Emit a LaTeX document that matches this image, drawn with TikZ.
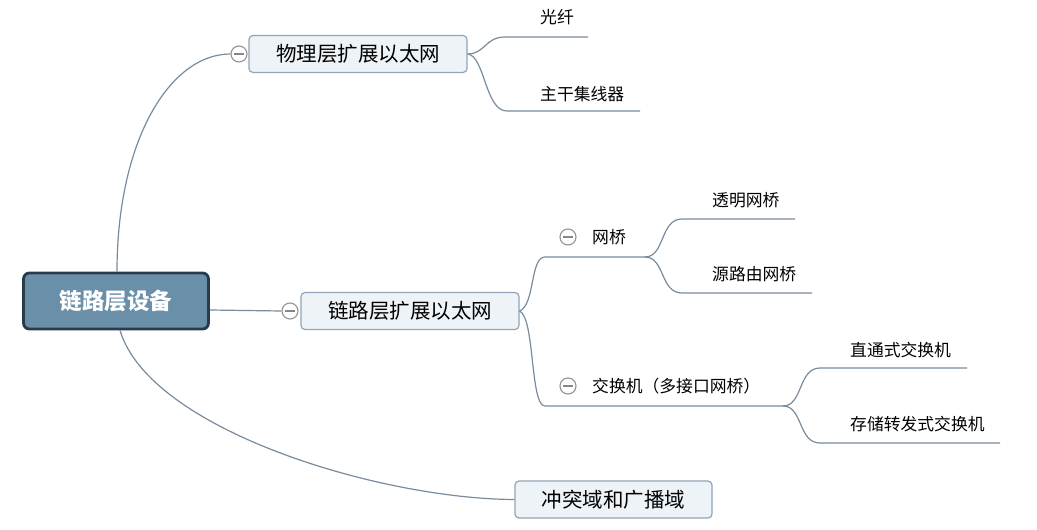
\documentclass[tikz,border=0pt]{standalone}
\usepackage{fontspec}
\usepackage{tikz}
\usetikzlibrary{positioning}
\setmainfont{Noto Sans CJK SC}
\definecolor{rootfill}{RGB}{106,143,168}
\definecolor{rootdraw}{RGB}{40,58,75}
\definecolor{boxfill}{RGB}{238,243,248}
\definecolor{boxdraw}{RGB}{145,165,183}
\definecolor{linkgray}{RGB}{120,140,158}

\begin{document}
\begin{tikzpicture}[x=1pt, y=-1pt,
  rootbox/.style={rectangle, draw=rootdraw, line width=2.8pt, fill=rootfill, rounded corners=6pt, minimum width=185pt, minimum height=56pt, text=white, font=\fontsize{22.5}{25}\selectfont\bfseries},
  topic/.style={rectangle, draw=boxdraw, line width=1.2pt, fill=boxfill, rounded corners=4pt, minimum width=218pt, minimum height=37pt, font=\fontsize{20.5}{23}\selectfont},
  leaf/.style={inner sep=0pt, anchor=west, font=\fontsize{16.8}{19}\selectfont},
  fold/.style={circle, draw=gray!85, line width=1.1pt, fill=white, minimum size=16pt, inner sep=0pt, path picture={\draw[gray!95, line width=1.3pt] ([xshift=-5pt]path picture bounding box.center) -- ([xshift=5pt]path picture bounding box.center);}},
  conn/.style={draw=linkgray, line width=1.2pt},
]
  \useasboundingbox[fill=white] (0,0) rectangle (1037,530);

  % root
  \node[rootbox] (root) at (116,301) {链路层设备};

  % main topics
  \node[topic] (phy) at (358,54) {物理层扩展以太网};
  \node[topic] (link) at (410,311) {链路层扩展以太网};
  \node[topic, minimum width=197pt] (coll) at (613.5,499.5) {冲突域和广播域};
  \node[fold] (phyfold) at (239,54) {};
  \node[fold] (linkfold) at (290,311) {};

  % subtopics of link
  \node[fold] (bridgefold) at (568,237) {};
  \node[leaf] (bridge) at (592,237) {网桥};
  \node[fold] (switchfold) at (568,386) {};
  \node[leaf] (switch) at (592,386) {交换机（多接口网桥）};

  % leaves
  \node[leaf] (fiber) at (540,17) {光纤};
  \node[leaf] (hub) at (540,94) {主干集线器};
  \node[leaf] (transp) at (712,200) {透明网桥};
  \node[leaf] (srcroute) at (712,274) {源路由网桥};
  \node[leaf] (cutthru) at (850,350) {直通式交换机};
  \node[leaf] (storefwd) at (850,424) {存储转发式交换机};

  % underline ends
  \coordinate (fiberA) at (505,37);   \coordinate (fiberB) at (588,37);
  \coordinate (hubA) at (507,111);    \coordinate (hubB) at (640,111);
  \coordinate (bridgeA) at (545,257); \coordinate (bridgeB) at (645,257);
  \coordinate (transpA) at (682,219); \coordinate (transpB) at (795,219);
  \coordinate (srcA) at (682,293);    \coordinate (srcB) at (812,293);
  \coordinate (switchA) at (545,406); \coordinate (switchB) at (783,406);
  \coordinate (cutA) at (820,368);    \coordinate (cutB) at (967,368);
  \coordinate (storeA) at (820,443);  \coordinate (storeB) at (1000,443);

  % connectors from root
  \draw[conn] ([xshift=1pt]root.north) .. controls (117,140) and (170,54) .. (phyfold.west);
  \draw[conn] ([yshift=-9pt]root.east) -- (linkfold.west);
  \draw[conn] ([xshift=4pt]root.south) .. controls (150,430) and (380,499) .. (coll.west);

  % connectors from topics
  \draw[conn] (phy.east) .. controls (485,54) and (485,37) .. (fiberA) -- (fiberB);
  \draw[conn] (phy.east) .. controls (485,56) and (485,111) .. (hubA) -- (hubB);
  \draw[conn] (link.east) .. controls (535,305) and (530,257) .. (bridgeA) -- (bridgeB);
  \draw[conn] (link.east) .. controls (535,318) and (530,406) .. (switchA) -- (switchB);
  \draw[conn] (bridgeB) .. controls (665,257) and (660,219) .. (transpA) -- (transpB);
  \draw[conn] (bridgeB) .. controls (665,257) and (660,293) .. (srcA) -- (srcB);
  \draw[conn] (switchB) .. controls (803,406) and (798,368) .. (cutA) -- (cutB);
  \draw[conn] (switchB) .. controls (803,406) and (798,443) .. (storeA) -- (storeB);
\end{tikzpicture}
\end{document}
